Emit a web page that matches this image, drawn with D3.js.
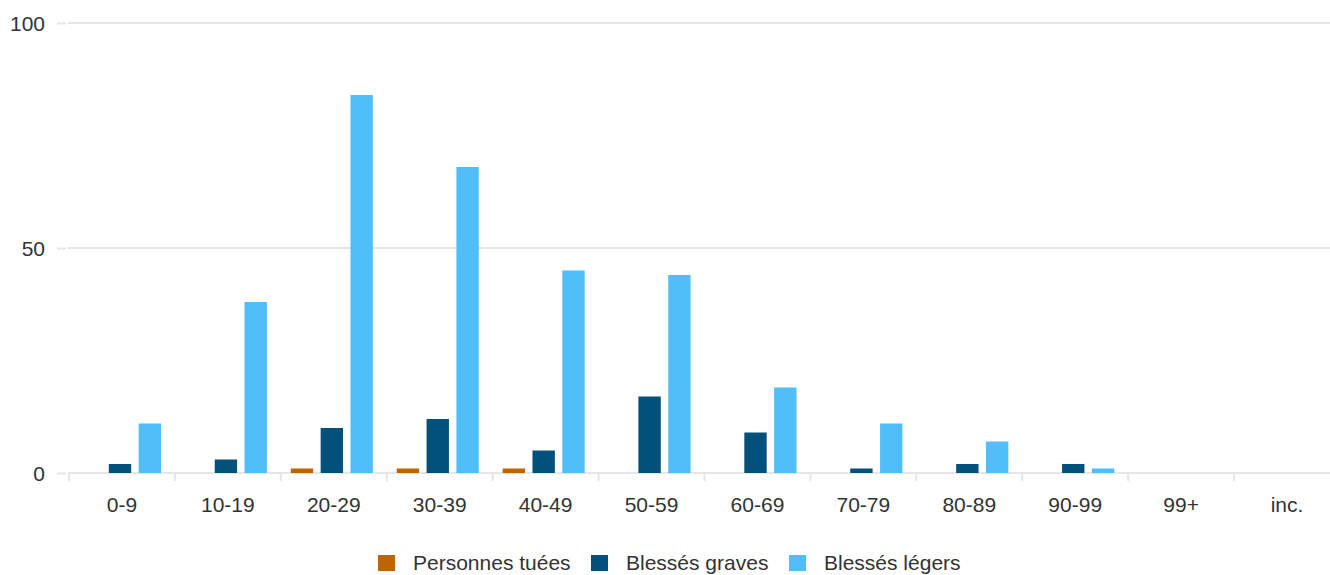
<!DOCTYPE html>
<html>
<head>
<meta charset="utf-8">
<script src="https://cdn.jsdelivr.net/npm/d3@7"></script>
<style>
  html, body { margin: 0; padding: 0; background: #fff; }
  svg { display: block; font-family: "Liberation Sans", Arial, sans-serif; }
</style>
</head>
<body>
<svg id="chart" width="1330" height="575"></svg>
<script>
const categories = ["0-9", "10-19", "20-29", "30-39", "40-49", "50-59", "60-69", "70-79", "80-89", "90-99", "99+", "inc."];
const seriesNames = ["Personnes tuées", "Blessés graves", "Blessés légers"];
const tuees  = [0, 0, 1, 1, 1, 0, 0, 0, 0, 0, 0, 0];
const graves = [2, 3, 10, 12, 5, 17, 9, 1, 2, 2, 0, 0];
const legers = [11, 38, 84, 68, 45, 44, 19, 11, 7, 1, 0, 0];
const colors = ["#BF6400", "#02517B", "#50BEF9"];
const yTicks = [0, 50, 100];

const seriesValues = [tuees, graves, legers];
const svg = d3.select("#chart");

const x0 = d3.scaleBand().domain(categories).range([69, 1340]).padding(0);
const x1 = d3.scaleBand().domain(seriesNames).range([10, 92]).paddingInner(0.25).paddingOuter(0);
const y = d3.scaleLinear().domain([0, 100]).range([473, 23]);

// gridlines
svg.append("g")
  .selectAll("line")
  .data(yTicks.filter(d => d !== 0))
  .join("line")
  .attr("x1", 68).attr("x2", 1330)
  .attr("y1", d => y(d)).attr("y2", d => y(d))
  .attr("stroke", "#e6e6e6").attr("stroke-width", 2);

// y axis
const yAxis = svg.append("g").attr("transform", "translate(66,0)")
  .call(d3.axisLeft(y).tickValues(yTicks).tickSize(9).tickPadding(12).tickFormat(d3.format("d")));
yAxis.select(".domain").remove();
yAxis.selectAll(".tick line").attr("stroke", "#e6e6e6").attr("stroke-width", 2);
yAxis.selectAll("text").attr("fill", "#333").style("font-size", "21px").attr("dy", "0.35em");

// x axis (drawn beneath bars)
const xAxis = svg.append("g").attr("transform", `translate(0,${y(0)})`)
  .call(d3.axisBottom(x0).tickSize(0).tickPadding(24));
xAxis.select(".domain").attr("stroke", "#e6e6e6").attr("stroke-width", 2)
  .attr("d", `M68,0H1330`);
xAxis.selectAll("text").attr("fill", "#333").style("font-size", "21px");
svg.append("g")
  .selectAll("line")
  .data(categories)
  .join("line")
  .attr("x1", d => x0(d)).attr("x2", d => x0(d))
  .attr("y1", y(0)).attr("y2", y(0) + 8)
  .attr("stroke", "#e6e6e6").attr("stroke-width", 2);

// bars
const groups = svg.append("g")
  .selectAll("g")
  .data(categories)
  .join("g")
  .attr("transform", d => `translate(${x0(d)},0)`);

groups.selectAll("rect")
  .data((c, i) => seriesNames.map((s, k) => ({ s, k, v: seriesValues[k][i] })))
  .join("rect")
  .filter(d => d.v > 0)
  .attr("x", d => x1(d.s))
  .attr("width", x1.bandwidth())
  .attr("y", d => y(d.v))
  .attr("height", d => y(0) - y(d.v))
  .attr("fill", d => colors[d.k]);

// legend
const legendX = [378, 591, 789];
const legend = svg.append("g")
  .selectAll("g")
  .data(seriesNames)
  .join("g")
  .attr("transform", (d, i) => `translate(${legendX[i]},555)`);
legend.append("rect").attr("width", 17).attr("height", 16).attr("fill", (d, i) => colors[i]);
legend.append("text")
  .attr("x", 35).attr("y", 8).attr("dy", "0.35em")
  .attr("fill", "#333").style("font-size", "21px")
  .text(d => d);
</script>
</body>
</html>
